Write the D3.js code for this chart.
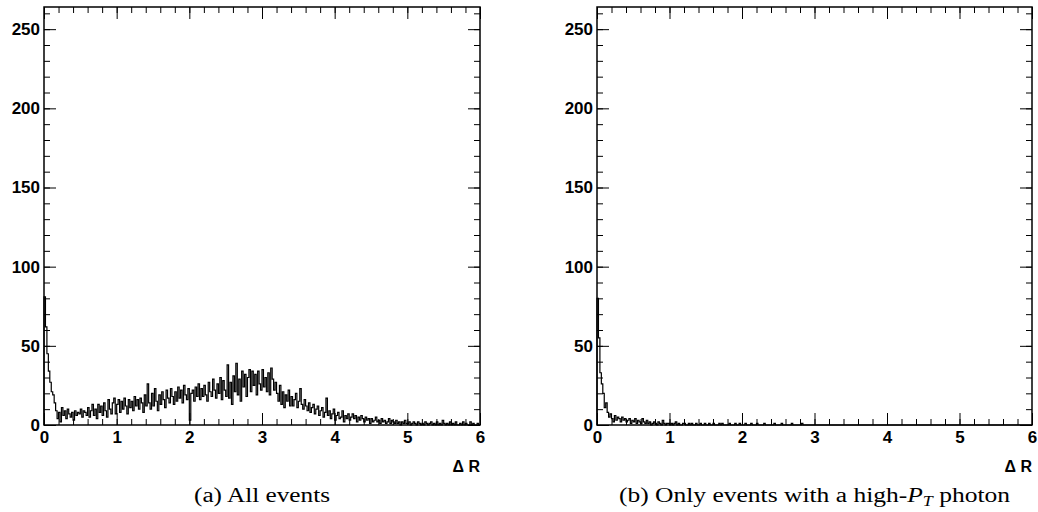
<!DOCTYPE html>
<html>
<head>
<meta charset="utf-8">
<script src="https://cdn.jsdelivr.net/npm/d3@7"></script>
<style>
  html, body { margin: 0; padding: 0; background: #fff; }
  svg { display: block; }
</style>
</head>
<body>
<svg id="chart" width="1038" height="512"></svg>
<script>
// ---- data ----
const xRange = [0, 6];
const binWidth = 0.02;
const yRange = [0, 264];
const xMajorTicks = [0, 1, 2, 3, 4, 5, 6];
const yMajorTicks = [0, 50, 100, 150, 200, 250];
const xTitle = "\u0394 R";
const captionA = "(a) All events";

// (a) all events: 300 bins of width 0.02 from 0 to 6
const countsAll = [
  81, 62, 45, 34, 27, 21, 19, 14, 9, 4,
  8, 2, 11, 6, 9, 4, 10, 7, 5, 8,
  3, 9, 6, 8, 7, 10, 5, 9, 8, 6,
  11, 5, 9, 13, 6, 10, 4, 13, 8, 12,
  6, 14, 9, 5, 16, 10, 7, 14, 17, 7,
  13, 16, 8, 15, 10, 17, 12, 7, 16, 11,
  15, 9, 18, 12, 16, 10, 17, 14, 8, 19,
  12, 26, 14, 10, 20, 12, 23, 15, 9, 19,
  13, 21, 16, 11, 22, 17, 14, 23, 18, 13,
  21, 15, 24, 17, 22, 14, 25, 19, 16, 23,
  3, 20, 22, 15, 24, 18, 26, 16, 23, 18,
  25, 19, 15, 27, 21, 18, 29, 22, 17, 26,
  20, 30, 16, 28, 22, 18, 38, 17, 27, 13,
  31, 21, 39, 19, 29, 15, 34, 24, 32, 18,
  30, 35, 21, 34, 25, 32, 19, 34, 26, 22,
  35, 24, 30, 21, 33, 19, 36, 29, 22, 27,
  20, 15, 25, 13, 21, 11, 19, 15, 22, 12,
  18, 12, 16, 20, 11, 15, 23, 13, 10, 16,
  12, 9, 14, 8, 11, 13, 7, 10, 12, 6,
  9, 11, 5, 8, 17, 6, 9, 4, 7, 10,
  3, 6, 8, 4, 5, 9, 2, 6, 4, 7,
  3, 5, 7, 4, 6, 2, 5, 3, 6, 4,
  2, 5, 3, 4, 1, 4, 2, 3, 5, 2,
  3, 1, 4, 2, 3, 1, 2, 4, 1, 3,
  2, 1, 3, 1, 2, 0, 2, 1, 3, 1,
  1, 2, 0, 1, 2, 1, 0, 2, 1, 0,
  1, 0, 2, 1, 0, 1, 2, 0, 1, 0,
  2, 0, 1, 0, 3, 1, 0, 1, 0, 2,
  0, 1, 0, 2, 0, 0, 1, 0, 2, 0,
  1, 0, 0, 2, 0, 1, 0, 0, 1, 0
];

// (b) only events with a high-pT photon
const countsPhoton = [
  80, 55, 33, 26, 20, 11, 14, 8, 5, 7,
  4, 2, 6, 3, 5, 4, 2, 5, 3, 4,
  2, 3, 4, 1, 3, 2, 4, 1, 3, 2,
  1, 4, 2, 1, 3, 1, 2, 0, 1, 2,
  1, 0, 2, 1, 0, 3, 1, 0, 1, 1,
  0, 1, 0, 1, 2, 0, 1, 0, 0, 1,
  1, 0, 0, 1, 0, 1, 0, 0, 1, 0,
  0, 1, 0, 0, 1, 0, 0, 1, 0, 0,
  1, 0, 0, 0, 1, 0, 1, 0, 0, 0,
  0, 1, 0, 0, 0, 1, 0, 0, 1, 0,
  0, 0, 1, 0, 0, 0, 1, 0, 0, 0,
  1, 0, 0, 0, 0, 1, 0, 0, 0, 0,
  0, 0, 1, 0, 0, 0, 0, 1, 0, 0,
  0, 0, 0, 0, 1, 0, 0, 0, 0, 0,
  0, 1, 0, 0, 0, 0, 0, 0, 0, 0,
  0, 0, 0, 0, 0, 0, 0, 0, 0, 0,
  0, 0, 0, 0, 0, 0, 0, 0, 0, 0,
  0, 0, 0, 0, 0, 0, 0, 0, 0, 0,
  0, 0, 0, 0, 0, 0, 0, 0, 0, 0,
  0, 0, 0, 0, 0, 0, 0, 0, 0, 0,
  0, 0, 0, 0, 0, 0, 0, 0, 0, 0,
  0, 0, 0, 0, 0, 0, 0, 0, 0, 0,
  0, 0, 0, 0, 0, 0, 0, 0, 0, 0,
  0, 0, 0, 0, 0, 0, 0, 0, 0, 0,
  0, 0, 0, 0, 0, 0, 0, 0, 0, 0,
  0, 0, 0, 0, 0, 0, 0, 0, 0, 0,
  0, 0, 0, 0, 0, 0, 0, 0, 0, 0,
  0, 0, 0, 0, 0, 0, 0, 0, 0, 0,
  0, 0, 0, 0, 0, 0, 0, 0, 0, 0,
  0, 0, 0, 0, 0, 0, 0, 0, 0, 0
];

// ---- drawing ----
const svg = d3.select("#chart");
const axisFont = "'Liberation Sans', Arial, Helvetica, sans-serif";
const serifFont = "'Liberation Serif', 'Times New Roman', serif";

function drawPanel(frame, counts, caption) {
  const x = d3.scaleLinear().domain(xRange).range([frame.left, frame.right]);
  const y = d3.scaleLinear().domain(yRange).range([frame.bottom, frame.top]);
  const g = svg.append("g");

  // histogram (step outline)
  const pts = [];
  counts.forEach((c, i) => {
    const x0 = xRange[0] + i * binWidth;
    pts.push([x0, c], [x0 + binWidth, c]);
  });
  const line = d3.line().x(d => x(d[0])).y(d => y(d[1]));
  const pathPts = [[xRange[0], 0]].concat(pts, [[xRange[1], 0]]);
  g.append("path")
    .attr("d", line(pathPts))
    .attr("fill", "none")
    .attr("stroke", "#000")
    .attr("stroke-width", 1.2);

  const minorX = d3.range(0, 31).map(i => i * 0.2);
  const minorY = d3.range(0, 27).map(i => i * 10);

  function styleAxis(sel) {
    sel.select(".domain").remove();
    sel.selectAll(".tick line").attr("stroke", "#000").attr("stroke-width", 1);
  }
  function styleLabels(sel) {
    sel.selectAll("text").attr("font-family", axisFont).attr("font-weight", "bold")
      .attr("font-size", 17).attr("fill", "#000");
  }

  // bottom axis
  g.append("g").attr("transform", `translate(0,${frame.bottom})`)
    .call(d3.axisBottom(x).tickValues(xMajorTicks).tickSize(-12).tickPadding(6).tickFormat(d3.format("d")))
    .call(styleAxis).call(styleLabels);
  g.append("g").attr("transform", `translate(0,${frame.bottom})`)
    .call(d3.axisBottom(x).tickValues(minorX).tickSize(-6).tickFormat(""))
    .call(styleAxis);
  // top axis
  g.append("g").attr("transform", `translate(0,${frame.top})`)
    .call(d3.axisTop(x).tickValues(xMajorTicks).tickSize(-12).tickFormat(""))
    .call(styleAxis);
  g.append("g").attr("transform", `translate(0,${frame.top})`)
    .call(d3.axisTop(x).tickValues(minorX).tickSize(-6).tickFormat(""))
    .call(styleAxis);
  // left axis
  g.append("g").attr("transform", `translate(${frame.left},0)`)
    .call(d3.axisLeft(y).tickValues(yMajorTicks).tickSize(-12).tickPadding(4).tickFormat(d3.format("d")))
    .call(styleAxis).call(styleLabels);
  g.append("g").attr("transform", `translate(${frame.left},0)`)
    .call(d3.axisLeft(y).tickValues(minorY).tickSize(-6).tickFormat(""))
    .call(styleAxis);
  // right axis
  g.append("g").attr("transform", `translate(${frame.right},0)`)
    .call(d3.axisRight(y).tickValues(yMajorTicks).tickSize(-12).tickFormat(""))
    .call(styleAxis);
  g.append("g").attr("transform", `translate(${frame.right},0)`)
    .call(d3.axisRight(y).tickValues(minorY).tickSize(-6).tickFormat(""))
    .call(styleAxis);

  // frame
  g.append("rect")
    .attr("x", frame.left).attr("y", frame.top)
    .attr("width", frame.right - frame.left).attr("height", frame.bottom - frame.top)
    .attr("fill", "none").attr("stroke", "#000").attr("stroke-width", 1.5);

  // x title
  g.append("text")
    .attr("x", frame.right).attr("y", frame.bottom + 47)
    .attr("text-anchor", "end")
    .attr("font-family", axisFont).attr("font-weight", "bold").attr("font-size", 16)
    .text(xTitle);

  // caption
  caption(g, (frame.left + frame.right) / 2, 502);
}

drawPanel({left: 44, right: 480, top: 7, bottom: 425}, countsAll, (g, cx, cy) => {
  g.append("text").attr("x", cx).attr("y", cy).attr("text-anchor", "middle")
    .attr("font-family", serifFont).attr("font-size", 20)
    .attr("textLength", 136).attr("lengthAdjust", "spacingAndGlyphs")
    .text(captionA);
});

drawPanel({left: 597, right: 1032, top: 7, bottom: 425}, countsPhoton, (g, cx, cy) => {
  const t = g.append("text").attr("x", cx).attr("y", cy).attr("text-anchor", "middle")
    .attr("font-family", serifFont).attr("font-size", 20)
    .attr("textLength", 391).attr("lengthAdjust", "spacingAndGlyphs");
  t.append("tspan").text("(b) Only events with a high-");
  t.append("tspan").attr("font-style", "italic").text("P");
  t.append("tspan").attr("font-style", "italic").attr("font-size", 14).attr("dy", 4).text("T");
  t.append("tspan").attr("dy", -4).text(" photon");
});
</script>
</body>
</html>
